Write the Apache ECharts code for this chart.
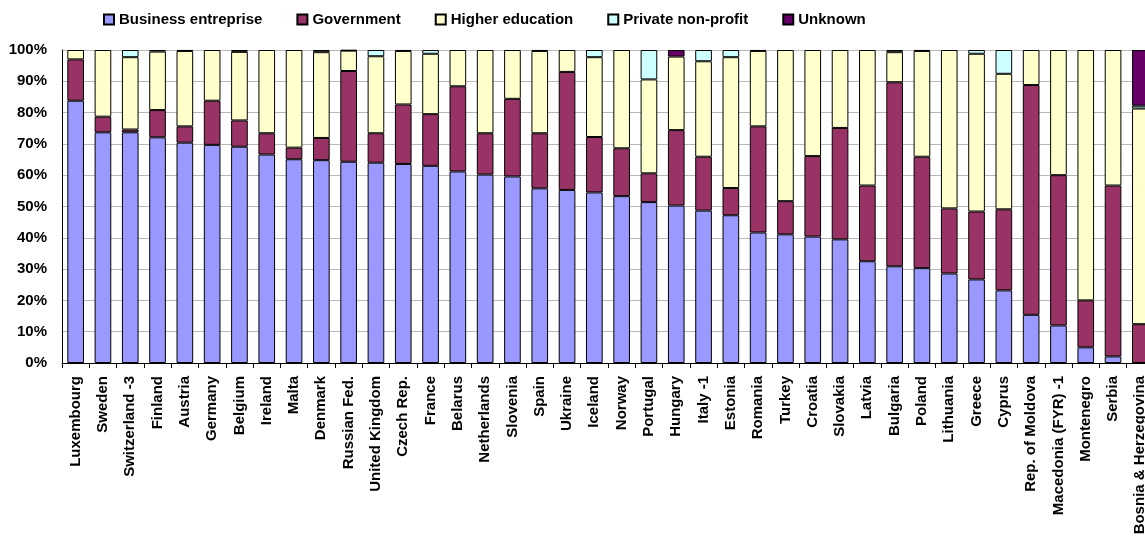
<!DOCTYPE html>
<html>
<head>
<meta charset="utf-8">
<script src="https://cdn.jsdelivr.net/npm/echarts@6/dist/echarts.min.js"></script>
<style>html,body{margin:0;padding:0;background:#fff}#c{width:1145px;height:539px}</style>
</head>
<body>
<div id="c"></div>
<script>
const categories = ["Luxembourg","Sweden","Switzerland -3","Finland","Austria","Germany","Belgium","Ireland","Malta","Denmark","Russian Fed.","United Kingdom","Czech Rep.","France","Belarus","Netherlands","Slovenia","Spain","Ukraine","Iceland","Norway","Portugal","Hungary","Italy -1","Estonia","Romania","Turkey","Croatia","Slovakia","Latvia","Bulgaria","Poland","Lithuania","Greece","Cyprus","Rep. of Moldova","Macedonia (FYR) -1","Montenegro","Serbia","Bosnia & Herzegovina"];
const business = [83.8,73.7,73.7,72.1,70.4,69.7,69.1,66.6,65.1,64.8,64.3,64.0,63.6,63.0,61.2,60.2,59.6,55.8,55.3,54.5,53.3,51.4,50.3,48.7,47.2,41.7,41.1,40.4,39.5,32.5,30.9,30.3,28.6,26.7,23.2,15.4,12.0,5.0,2.1,0];
const government = [13.2,5.0,0.9,8.7,5.2,14.1,8.4,6.8,3.7,7.1,29.0,9.4,19.0,16.5,27.2,13.2,24.8,17.6,37.7,17.7,15.3,9.2,24.1,17.2,8.7,33.9,10.6,25.7,35.6,24.2,58.8,35.6,20.8,21.7,25.9,73.4,48.0,15.0,54.6,12.4];
const higherEducation = [3.0,21.3,23.1,18.7,24.1,16.2,21.9,26.6,31.2,27.4,6.5,24.6,17.1,19.3,11.6,26.6,15.6,26.3,7.0,25.5,31.4,30.0,23.5,30.5,41.8,24.1,48.3,33.9,24.9,43.3,9.6,33.8,50.6,50.4,43.3,11.2,40.0,80.0,43.3,68.9];
const privateNonProfit = [0,0,2.3,0.5,0.3,0,0.6,0,0,0.7,0.2,2.0,0.3,1.2,0,0,0,0.3,0,2.3,0,9.4,0,3.6,2.3,0.3,0,0,0,0,0.7,0.3,0,1.2,7.6,0,0,0,0,0.9];
const unknown = [0,0,0,0,0,0,0,0,0,0,0,0,0,0,0,0,0,0,0,0,0,0,2.1,0,0,0,0,0,0,0,0,0,0,0,0,0,0,0,0,17.8];
const yTicks = [0,10,20,30,40,50,60,70,80,90,100];

const FONT = 'Arial, "Liberation Sans", sans-serif';
function mk(name, data, color) {
  return {
    name, type: 'bar', stack: 'total', data: data.map(v => v === 0 ? null : v),
    barCategoryGap: '39%',
    itemStyle: { color, borderColor: '#000', borderWidth: 1 },
    emphasis: { disabled: true }
  };
}
const chart = echarts.init(document.getElementById('c'), null, { renderer: 'canvas' });
chart.setOption({
  animation: false,
  backgroundColor: '#fff',
  legend: {
    left: 98, top: 7, itemWidth: 10, itemHeight: 10, itemGap: 34,
    icon: 'rect',
    textStyle: { fontFamily: FONT, fontSize: 15, fontWeight: 'bold', color: '#000' }
  },
  grid: { left: 62, top: 50, width: 1092, height: 313, containLabel: false, outerBoundsMode: 'none' },
  xAxis: {
    type: 'category', data: categories,
    axisLine: { lineStyle: { color: '#000', width: 1 } },
    axisTick: { show: true, length: 5, lineStyle: { color: '#000' } },
    axisLabel: { interval: 0, rotate: 90, margin: 13, fontFamily: FONT, fontSize: 15, fontWeight: 'bold', color: '#000' }
  },
  yAxis: {
    type: 'value', min: yTicks[0], max: yTicks[yTicks.length - 1], interval: 10,
    axisLine: { show: true, lineStyle: { color: '#000', width: 1 } },
    axisTick: { show: false },
    splitLine: { show: true, lineStyle: { color: '#b8b8b8', width: 1 } },
    axisLabel: { margin: 15, formatter: '{value}%', fontFamily: FONT, fontSize: 15, fontWeight: 'bold', color: '#000' }
  },
  series: [
    mk('Business entreprise', business, '#9999FF'),
    mk('Government', government, '#993366'),
    mk('Higher education', higherEducation, '#FFFFCC'),
    mk('Private non-profit', privateNonProfit, '#CCFFFF'),
    mk('Unknown', unknown, '#660066')
  ]
});
</script>
</body>
</html>
